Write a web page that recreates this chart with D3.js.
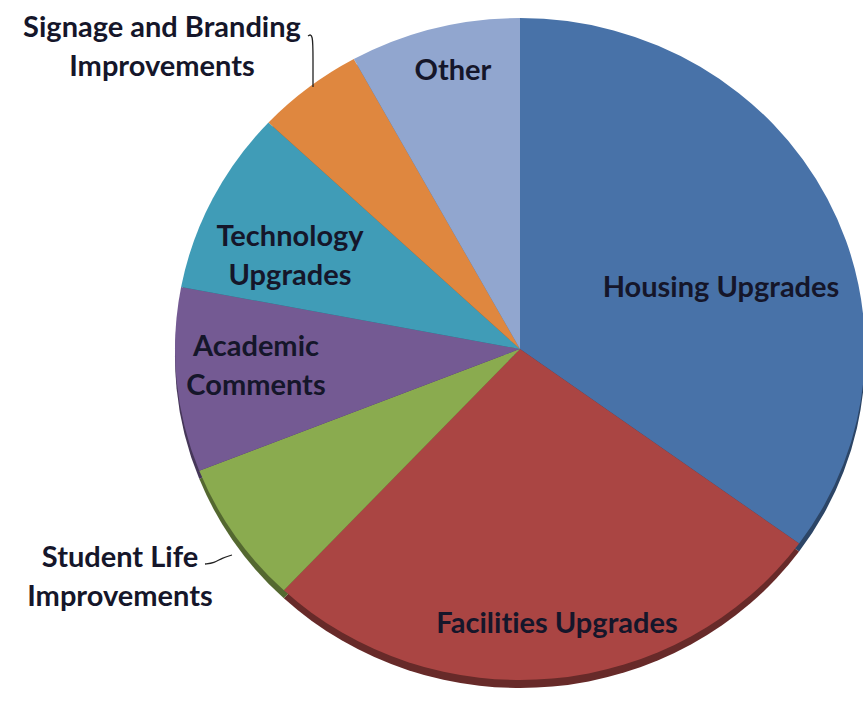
<!DOCTYPE html>
<html>
<head>
<meta charset="utf-8">
<script src="https://cdn.jsdelivr.net/npm/d3@7"></script>
<style>
  body { margin: 0; background: #fff; }
  svg { display: block; }
  .lbl { font-family: Lato, "Open Sans", sans-serif; font-weight: 700; fill: #15162a;
         font-variant-ligatures: none; }
</style>
</head>
<body>
<svg id="pie" width="863" height="705"></svg>
<script>
// slice order, clockwise from 12 o'clock
var categories = ["Housing Upgrades", "Facilities Upgrades", "Student Life Improvements",
                  "Academic Comments", "Technology Upgrades", "Signage and Branding Improvements", "Other"];
var values = [35, 27, 7, 9, 9, 5, 8];
var colors = ["#4872a8", "#aa4543", "#8aab4f", "#745a93", "#409cb7", "#df873f", "#91a6cf"];

var width = 863, height = 705;
var cx = 520, cy = 349, rx = 345, ry = 331;

var svg = d3.select("#pie");

var pie = d3.pie().sort(null).value(function(d) { return d; });
var arcs = pie(values);
var arc = d3.arc().innerRadius(0).outerRadius(ry);

// thin 3d rim under the pie
var rimG = svg.append("g")
  .attr("transform", "translate(" + cx + "," + (cy + 8) + ") scale(" + (rx / ry) + ",1)");
rimG.selectAll("path")
  .data(arcs)
  .join("path")
  .attr("d", arc)
  .attr("fill", function(d, i) { return d3.color(colors[i]).darker(1.4); });

var pieG = svg.append("g")
  .attr("transform", "translate(" + cx + "," + cy + ") scale(" + (rx / ry) + ",1)");
pieG.selectAll("path")
  .data(arcs)
  .join("path")
  .attr("d", arc)
  .attr("fill", function(d, i) { return colors[i]; });

// label layout (text lines + centre point)
var labels = [
  {lines: ["Housing Upgrades"], x: 721, y: 287},
  {lines: ["Facilities Upgrades"], x: 557, y: 623},
  {lines: ["Student Life", "Improvements"], x: 120, y: 557},
  {lines: ["Academic", "Comments"], x: 256, y: 346},
  {lines: ["Technology", "Upgrades"], x: 290, y: 236},
  {lines: ["Signage and Branding", "Improvements"], x: 162, y: 27},
  {lines: ["Other"], x: 453, y: 70}
];
var lineH = 39;

labels.forEach(function(l) {
  var t = svg.append("text")
    .attr("class", "lbl")
    .attr("text-anchor", "middle")
    .attr("font-size", 29);
  l.lines.forEach(function(s, j) {
    t.append("tspan")
      .attr("x", l.x)
      .attr("y", l.y + j * lineH)
      .attr("dy", "0.35em")
      .text(s);
  });
});

// leader lines for outside labels
var line = d3.line().curve(d3.curveBasis);
svg.append("path")
  .attr("d", line([[308, 36], [313, 33], [313, 60], [313, 87]]))
  .attr("fill", "none").attr("stroke", "#222").attr("stroke-width", 1.3);
svg.append("path")
  .attr("d", line([[205, 564], [214, 563], [222, 558], [232, 555]]))
  .attr("fill", "none").attr("stroke", "#222").attr("stroke-width", 1.3);
</script>
</body>
</html>
